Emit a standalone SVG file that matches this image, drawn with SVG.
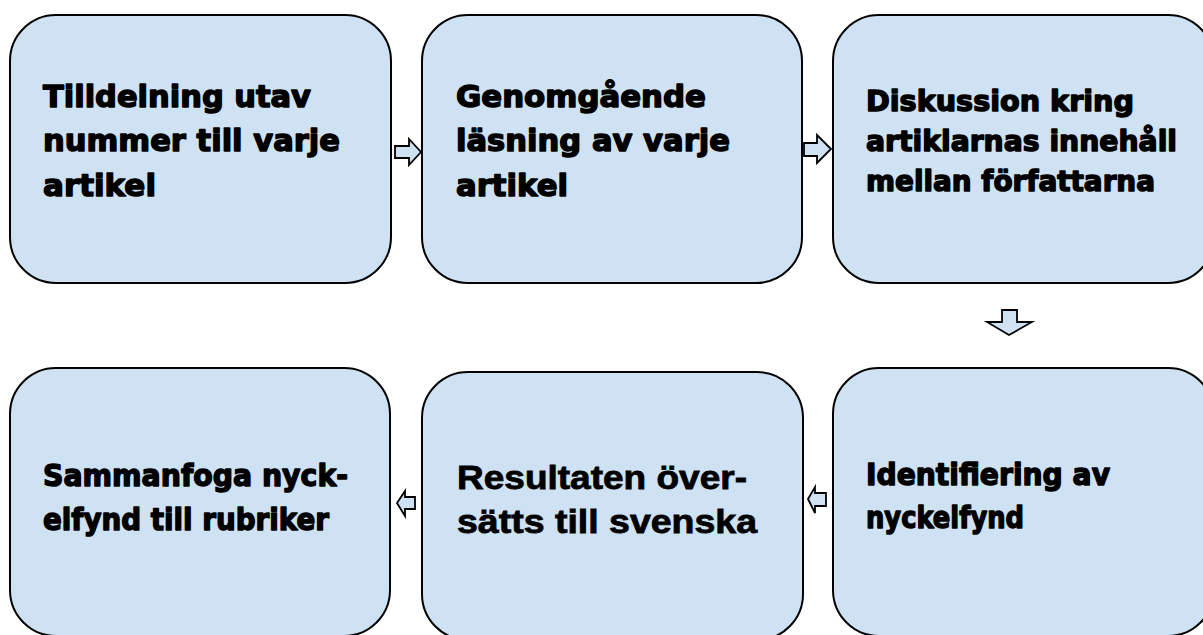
<svg xmlns="http://www.w3.org/2000/svg" width="1203" height="635" viewBox="0 0 1203 635">
<style>
.box{fill:#cfe2f3;stroke:#000;stroke-width:2}
.arr{fill:#cfe2f3;stroke:#000;stroke-width:1.8;stroke-linejoin:miter}
.t{font-family:"DejaVu Sans","Liberation Sans",sans-serif;font-weight:bold;fill:#000;stroke:#000;stroke-width:1.5;stroke-linejoin:round}
.t1{font-size:31px}
.t3{font-size:29px}
.t5{font-family:"Liberation Sans",Arial,sans-serif;font-weight:bold;font-size:33px;fill:#000;stroke:#000;stroke-width:0.8}
</style>
<rect width="1203" height="635" fill="#fff"/>
<g id="node1">
<rect class="box" x="10" y="15" width="381" height="268" rx="46" ry="46"/>
<text class="t t1" x="43" y="107" textLength="268" lengthAdjust="spacingAndGlyphs">Tilldelning utav</text>
<text class="t t1" x="43" y="151" textLength="297" lengthAdjust="spacingAndGlyphs">nummer till varje</text>
<text class="t t1" x="43" y="196" textLength="113" lengthAdjust="spacingAndGlyphs">artikel</text>
</g>
<g id="node2">
<rect class="box" x="422" y="15" width="380" height="268" rx="46" ry="46"/>
<text class="t t1" x="456" y="107" textLength="250" lengthAdjust="spacingAndGlyphs">Genomgående</text>
<text class="t t1" x="456" y="151" textLength="274" lengthAdjust="spacingAndGlyphs">läsning av varje</text>
<text class="t t1" x="456" y="196" textLength="112" lengthAdjust="spacingAndGlyphs">artikel</text>
</g>
<g id="node3">
<rect class="box" x="833" y="15" width="381" height="268" rx="46" ry="46"/>
<text class="t t3" x="866" y="111" textLength="268" lengthAdjust="spacingAndGlyphs">Diskussion kring</text>
<text class="t t3" x="866" y="151" textLength="311" lengthAdjust="spacingAndGlyphs">artiklarnas innehåll</text>
<text class="t t3" x="866" y="191" textLength="289" lengthAdjust="spacingAndGlyphs">mellan författarna</text>
</g>
<g id="node4">
<rect class="box" x="10" y="368" width="380" height="268" rx="46" ry="46"/>
<text class="t t1" x="43" y="486" textLength="305" lengthAdjust="spacingAndGlyphs">Sammanfoga nyck-</text>
<text class="t t1" x="43" y="530" textLength="286" lengthAdjust="spacingAndGlyphs">elfynd till rubriker</text>
</g>
<g id="node5">
<rect class="box" x="422" y="372" width="381" height="268" rx="46" ry="46"/>
<text class="t5" x="457" y="489" textLength="290" lengthAdjust="spacingAndGlyphs">Resultaten över-</text>
<text class="t5" x="457" y="533" textLength="300" lengthAdjust="spacingAndGlyphs">sätts till svenska</text>
</g>
<g id="node6">
<rect class="box" x="833" y="368" width="381" height="268" rx="46" ry="46"/>
<text class="t t1" x="866" y="485" textLength="244" lengthAdjust="spacingAndGlyphs">Identifiering av</text>
<text class="t t1" x="866" y="528" textLength="158" lengthAdjust="spacingAndGlyphs">nyckelfynd</text>
</g>
<g id="connectors">
<polygon class="arr" points="395,146 409,146 409,139 421,152 409,165 409,158 395,158"/>
<polygon class="arr" points="804,143 817,143 817,135 831,149 817,163 817,156 804,156"/>
<polygon class="arr" points="1002,310 1017,310 1017,322 1032,322 1009,335 987,322 1002,322"/>
<polygon class="arr" points="826,493 815,493 815,487 808,499 815,513 815,506 826,506"/>
<polygon class="arr" points="415,497 405,497 405,491 397,503 405,516 405,509 415,509"/>
</g>
</svg>
